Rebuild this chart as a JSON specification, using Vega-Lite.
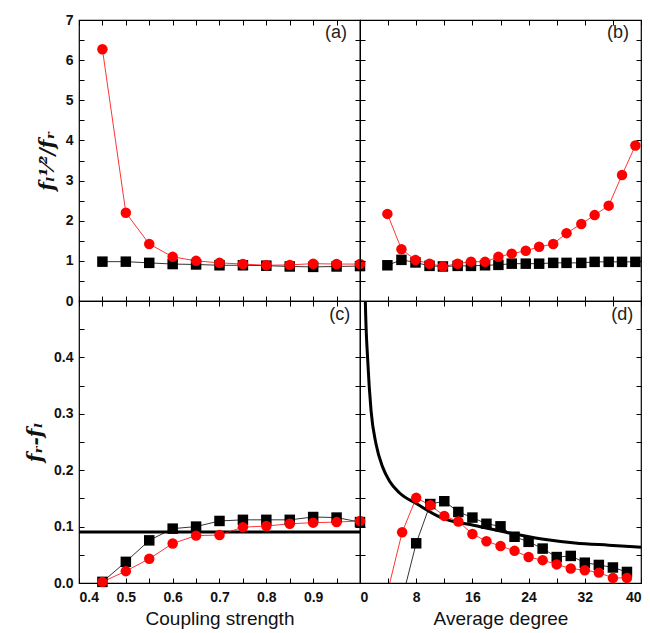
{
  "$schema": "https://vega.github.io/schema/vega-lite/v6.json",
  "padding": {"left": 24, "top": 12, "right": 5, "bottom": 5},
  "columns": 2,
  "spacing": 0,
  "bounds": "flush",
  "datasets": {
    "pa": [
      {"x": 0.45, "y": 0.98, "series": "build coupling"},
      {"x": 0.50, "y": 0.98, "series": "build coupling"},
      {"x": 0.55, "y": 0.95, "series": "build coupling"},
      {"x": 0.60, "y": 0.92, "series": "build coupling"},
      {"x": 0.65, "y": 0.91, "series": "build coupling"},
      {"x": 0.70, "y": 0.89, "series": "build coupling"},
      {"x": 0.75, "y": 0.89, "series": "build coupling"},
      {"x": 0.80, "y": 0.88, "series": "build coupling"},
      {"x": 0.85, "y": 0.86, "series": "build coupling"},
      {"x": 0.90, "y": 0.85, "series": "build coupling"},
      {"x": 0.95, "y": 0.86, "series": "build coupling"},
      {"x": 1.00, "y": 0.87, "series": "build coupling"},
      {"x": 0.45, "y": 6.27, "series": "cut coupling"},
      {"x": 0.50, "y": 2.2, "series": "cut coupling"},
      {"x": 0.55, "y": 1.42, "series": "cut coupling"},
      {"x": 0.60, "y": 1.1, "series": "cut coupling"},
      {"x": 0.65, "y": 1.0, "series": "cut coupling"},
      {"x": 0.70, "y": 0.95, "series": "cut coupling"},
      {"x": 0.75, "y": 0.92, "series": "cut coupling"},
      {"x": 0.80, "y": 0.89, "series": "cut coupling"},
      {"x": 0.85, "y": 0.9, "series": "cut coupling"},
      {"x": 0.90, "y": 0.93, "series": "cut coupling"},
      {"x": 0.95, "y": 0.92, "series": "cut coupling"},
      {"x": 1.00, "y": 0.92, "series": "cut coupling"}
    ],
    "pb": [
      {"x": 3.9, "y": 0.89, "series": "build coupling"},
      {"x": 5.9, "y": 1.025, "series": "build coupling"},
      {"x": 7.9, "y": 0.96, "series": "build coupling"},
      {"x": 9.9, "y": 0.875, "series": "build coupling"},
      {"x": 11.8, "y": 0.86, "series": "build coupling"},
      {"x": 13.9, "y": 0.875, "series": "build coupling"},
      {"x": 15.8, "y": 0.875, "series": "build coupling"},
      {"x": 17.8, "y": 0.89, "series": "build coupling"},
      {"x": 19.7, "y": 0.9, "series": "build coupling"},
      {"x": 21.6, "y": 0.93, "series": "build coupling"},
      {"x": 23.6, "y": 0.93, "series": "build coupling"},
      {"x": 25.5, "y": 0.93, "series": "build coupling"},
      {"x": 27.5, "y": 0.95, "series": "build coupling"},
      {"x": 29.4, "y": 0.95, "series": "build coupling"},
      {"x": 31.5, "y": 0.95, "series": "build coupling"},
      {"x": 33.4, "y": 0.975, "series": "build coupling"},
      {"x": 35.4, "y": 0.975, "series": "build coupling"},
      {"x": 37.3, "y": 0.975, "series": "build coupling"},
      {"x": 39.2, "y": 0.975, "series": "build coupling"},
      {"x": 3.9, "y": 2.17, "series": "cut coupling"},
      {"x": 5.9, "y": 1.29, "series": "cut coupling"},
      {"x": 7.9, "y": 1.02, "series": "cut coupling"},
      {"x": 9.9, "y": 0.93, "series": "cut coupling"},
      {"x": 11.8, "y": 0.86, "series": "cut coupling"},
      {"x": 13.9, "y": 0.93, "series": "cut coupling"},
      {"x": 15.8, "y": 0.98, "series": "cut coupling"},
      {"x": 17.8, "y": 0.975, "series": "cut coupling"},
      {"x": 19.7, "y": 1.1, "series": "cut coupling"},
      {"x": 21.6, "y": 1.18, "series": "cut coupling"},
      {"x": 23.6, "y": 1.25, "series": "cut coupling"},
      {"x": 25.5, "y": 1.35, "series": "cut coupling"},
      {"x": 27.5, "y": 1.42, "series": "cut coupling"},
      {"x": 29.4, "y": 1.69, "series": "cut coupling"},
      {"x": 31.5, "y": 1.92, "series": "cut coupling"},
      {"x": 33.4, "y": 2.14, "series": "cut coupling"},
      {"x": 35.4, "y": 2.375, "series": "cut coupling"},
      {"x": 37.3, "y": 3.14, "series": "cut coupling"},
      {"x": 39.2, "y": 3.875, "series": "cut coupling"}
    ],
    "pc": [
      {"x": 0.45, "y": 0.002, "series": "build coupling"},
      {"x": 0.50, "y": 0.0375, "series": "build coupling"},
      {"x": 0.55, "y": 0.0756, "series": "build coupling"},
      {"x": 0.60, "y": 0.0964, "series": "build coupling"},
      {"x": 0.65, "y": 0.1, "series": "build coupling"},
      {"x": 0.70, "y": 0.11, "series": "build coupling"},
      {"x": 0.75, "y": 0.112, "series": "build coupling"},
      {"x": 0.80, "y": 0.112, "series": "build coupling"},
      {"x": 0.85, "y": 0.112, "series": "build coupling"},
      {"x": 0.90, "y": 0.117, "series": "build coupling"},
      {"x": 0.95, "y": 0.116, "series": "build coupling"},
      {"x": 1.00, "y": 0.108, "series": "build coupling"},
      {"x": 0.45, "y": 0.002, "series": "cut coupling"},
      {"x": 0.50, "y": 0.021, "series": "cut coupling"},
      {"x": 0.55, "y": 0.043, "series": "cut coupling"},
      {"x": 0.60, "y": 0.07, "series": "cut coupling"},
      {"x": 0.65, "y": 0.084, "series": "cut coupling"},
      {"x": 0.70, "y": 0.085, "series": "cut coupling"},
      {"x": 0.75, "y": 0.099, "series": "cut coupling"},
      {"x": 0.80, "y": 0.101, "series": "cut coupling"},
      {"x": 0.85, "y": 0.105, "series": "cut coupling"},
      {"x": 0.90, "y": 0.107, "series": "cut coupling"},
      {"x": 0.95, "y": 0.108, "series": "cut coupling"},
      {"x": 1.00, "y": 0.11, "series": "cut coupling"}
    ],
    "pcref": [{"y": 0.0905}],
    "pd": [
      {"x": 6, "y": -0.028, "series": "build coupling"},
      {"x": 8, "y": 0.0704, "series": "build coupling"},
      {"x": 10, "y": 0.14, "series": "build coupling"},
      {"x": 12, "y": 0.145, "series": "build coupling"},
      {"x": 14, "y": 0.126, "series": "build coupling"},
      {"x": 16, "y": 0.116, "series": "build coupling"},
      {"x": 18, "y": 0.105, "series": "build coupling"},
      {"x": 20, "y": 0.1005, "series": "build coupling"},
      {"x": 22, "y": 0.082, "series": "build coupling"},
      {"x": 24, "y": 0.073, "series": "build coupling"},
      {"x": 26, "y": 0.061, "series": "build coupling"},
      {"x": 28, "y": 0.046, "series": "build coupling"},
      {"x": 30, "y": 0.048, "series": "build coupling"},
      {"x": 32, "y": 0.036, "series": "build coupling"},
      {"x": 34, "y": 0.032, "series": "build coupling"},
      {"x": 36, "y": 0.0275, "series": "build coupling"},
      {"x": 38, "y": 0.0196, "series": "build coupling"},
      {"x": 4, "y": -0.012, "series": "cut coupling"},
      {"x": 6, "y": 0.09, "series": "cut coupling"},
      {"x": 8, "y": 0.151, "series": "cut coupling"},
      {"x": 10, "y": 0.138, "series": "cut coupling"},
      {"x": 12, "y": 0.119, "series": "cut coupling"},
      {"x": 14, "y": 0.109, "series": "cut coupling"},
      {"x": 16, "y": 0.087, "series": "cut coupling"},
      {"x": 18, "y": 0.074, "series": "cut coupling"},
      {"x": 20, "y": 0.0655, "series": "cut coupling"},
      {"x": 22, "y": 0.057, "series": "cut coupling"},
      {"x": 24, "y": 0.046, "series": "cut coupling"},
      {"x": 26, "y": 0.0405, "series": "cut coupling"},
      {"x": 28, "y": 0.033, "series": "cut coupling"},
      {"x": 30, "y": 0.0257, "series": "cut coupling"},
      {"x": 32, "y": 0.0227, "series": "cut coupling"},
      {"x": 34, "y": 0.0184, "series": "cut coupling"},
      {"x": 36, "y": 0.009, "series": "cut coupling"},
      {"x": 38, "y": 0.009, "series": "cut coupling"}
    ],
    "pdcurve": [
      {"x": 0.6, "y": 0.62},
      {"x": 0.76, "y": 0.5},
      {"x": 1.1, "y": 0.395},
      {"x": 1.57, "y": 0.306},
      {"x": 2.29, "y": 0.246},
      {"x": 3.24, "y": 0.205},
      {"x": 4.19, "y": 0.181},
      {"x": 5.6, "y": 0.16},
      {"x": 8, "y": 0.141},
      {"x": 11.6, "y": 0.1155},
      {"x": 16.3, "y": 0.102},
      {"x": 21.1, "y": 0.089},
      {"x": 25.9, "y": 0.078},
      {"x": 30.6, "y": 0.071},
      {"x": 35.4, "y": 0.067},
      {"x": 40, "y": 0.0635}
    ],
    "labels": [
      {"panel": "(a)"}, {"panel": "(b)"}, {"panel": "(c)"}, {"panel": "(d)"}
    ]
  },
  "concat": [
    {
      "width": 281, "height": 281,
      "layer": [
        {
          "data": {"name": "pa"},
          "mark": {"type": "line", "strokeWidth": 0.8},
          "encoding": {
            "x": {"field": "x", "type": "quantitative", "scale": {"domain": [0.4, 1.0], "nice": false}, "axis": {"orient": "bottom", "tickSize": -5, "tickColor": "black", "values": [0.4,0.45,0.5,0.55,0.6,0.65,0.7,0.75,0.8,0.85,0.9,0.95,1.0], "labels": false, "title": null}},
            "y": {"field": "y", "type": "quantitative", "scale": {"domain": [0, 7], "nice": false, "zero": false}, "axis": {"orient": "left", "tickSize": -5, "tickColor": "black", "labelPadding": 11, "values": [0,0.5,1,1.5,2,2.5,3,3.5,4,4.5,5,5.5,6,6.5,7], "labelExpr": "datum.value % 1 === 0 ? format(datum.value, 'd') : ''", "title": "fₗ¹⁄²/fᵣ", "titleFont": "DejaVu Serif", "titleFontStyle": "italic", "titleFontWeight": "bold", "titleFontSize": 20, "titlePadding": 8}},
            "color": {"field": "series", "type": "nominal", "scale": {"domain": ["build coupling", "cut coupling"], "range": ["black", "red"]}, "legend": null}
          }
        },
        {
          "data": {"name": "pa"},
          "mark": {"type": "point", "filled": true, "opacity": 1, "size": 110},
          "encoding": {
            "x": {"field": "x", "type": "quantitative", "axis": {"orient": "top", "tickSize": -5, "tickColor": "black", "values": [0.4,0.45,0.5,0.55,0.6,0.65,0.7,0.75,0.8,0.85,0.9,0.95,1.0], "labels": false, "title": null}},
            "y": {"field": "y", "type": "quantitative", "axis": {"orient": "right", "tickSize": -5, "tickColor": "black", "values": [0,0.5,1,1.5,2,2.5,3,3.5,4,4.5,5,5.5,6,6.5,7], "labels": false, "title": null}},
            "color": {"field": "series", "type": "nominal", "legend": null},
            "shape": {"field": "series", "type": "nominal", "scale": {"domain": ["build coupling", "cut coupling"], "range": ["square", "circle"]}, "legend": null}
          }
        },
        {
          "data": {"name": "labels"},
          "transform": [{"filter": "datum.panel === '(a)'"}],
          "mark": {"type": "text", "align": "right", "baseline": "middle", "font": "Liberation Sans", "fontSize": 18, "fontWeight": "normal", "color": "#222"},
          "encoding": {"x": {"datum": 0.972, "axis": null}, "y": {"datum": 6.67, "axis": null}, "text": {"field": "panel"}}
        }
      ],
      "resolve": {"axis": {"x": "independent", "y": "independent"}}
    },
    {
      "width": 281, "height": 281,
      "layer": [
        {
          "data": {"name": "pb"},
          "mark": {"type": "line", "strokeWidth": 0.8},
          "encoding": {
            "x": {"field": "x", "type": "quantitative", "scale": {"domain": [0, 40], "nice": false}, "axis": {"orient": "bottom", "tickSize": -5, "tickColor": "black", "values": [0,4,8,12,16,20,24,28,32,36,40], "labels": false, "title": null}},
            "y": {"field": "y", "type": "quantitative", "scale": {"domain": [0, 7], "nice": false, "zero": false}, "axis": {"orient": "left", "tickSize": -5, "tickColor": "black", "values": [0,0.5,1,1.5,2,2.5,3,3.5,4,4.5,5,5.5,6,6.5,7], "labels": false, "title": null}},
            "color": {"field": "series", "type": "nominal", "scale": {"domain": ["build coupling", "cut coupling"], "range": ["black", "red"]}, "legend": null}
          }
        },
        {
          "data": {"name": "pb"},
          "mark": {"type": "point", "filled": true, "opacity": 1, "size": 110},
          "encoding": {
            "x": {"field": "x", "type": "quantitative", "axis": {"orient": "top", "tickSize": -5, "tickColor": "black", "values": [0,4,8,12,16,20,24,28,32,36,40], "labels": false, "title": null}},
            "y": {"field": "y", "type": "quantitative", "axis": {"orient": "right", "tickSize": -5, "tickColor": "black", "values": [0,0.5,1,1.5,2,2.5,3,3.5,4,4.5,5,5.5,6,6.5,7], "labels": false, "title": null}},
            "color": {"field": "series", "type": "nominal", "legend": null},
            "shape": {"field": "series", "type": "nominal", "scale": {"domain": ["build coupling", "cut coupling"], "range": ["square", "circle"]}, "legend": null}
          }
        },
        {
          "data": {"name": "labels"},
          "transform": [{"filter": "datum.panel === '(b)'"}],
          "mark": {"type": "text", "align": "right", "baseline": "middle", "font": "Liberation Sans", "fontSize": 18, "fontWeight": "normal", "color": "#222"},
          "encoding": {"x": {"datum": 38.3, "axis": null}, "y": {"datum": 6.67, "axis": null}, "text": {"field": "panel"}}
        }
      ],
      "resolve": {"axis": {"x": "independent", "y": "independent"}}
    },
    {
      "width": 281, "height": 282,
      "layer": [
        {
          "data": {"name": "pcref"},
          "mark": {"type": "rule", "strokeWidth": 3, "color": "black"},
          "encoding": {
            "y": {"field": "y", "type": "quantitative", "scale": {"domain": [0, 0.5], "nice": false}, "axis": null}
          }
        },
        {
          "data": {"name": "pc"},
          "mark": {"type": "line", "strokeWidth": 0.8},
          "encoding": {
            "x": {"field": "x", "type": "quantitative", "scale": {"domain": [0.4, 1.0], "nice": false}, "axis": {"orient": "bottom", "tickSize": -5, "tickColor": "black", "labelPadding": 12, "values": [0.4,0.45,0.5,0.55,0.6,0.65,0.7,0.75,0.8,0.85,0.9,0.95,1.0], "labelExpr": "(abs(datum.value*10 - round(datum.value*10)) < 0.001 && datum.value < 0.95) ? format(datum.value, '.1f') : ''", "title": "Coupling strength", "titlePadding": 5}},
            "y": {"field": "y", "type": "quantitative", "axis": {"orient": "left", "tickSize": -5, "tickColor": "black", "labelPadding": 11, "values": [0,0.05,0.1,0.15,0.2,0.25,0.3,0.35,0.4,0.45,0.5], "labelExpr": "(abs(datum.value*10 - round(datum.value*10)) < 0.001 && datum.value < 0.45) ? format(datum.value, '.1f') : ''", "title": "fᵣ-fₗ", "titleFont": "DejaVu Serif", "titleFontStyle": "italic", "titleFontWeight": "bold", "titleFontSize": 20, "titlePadding": 8}},
            "color": {"field": "series", "type": "nominal", "scale": {"domain": ["build coupling", "cut coupling"], "range": ["black", "red"]}}
          }
        },
        {
          "data": {"name": "pc"},
          "mark": {"type": "point", "filled": true, "opacity": 1, "size": 110},
          "encoding": {
            "x": {"field": "x", "type": "quantitative", "axis": {"orient": "top", "tickSize": -5, "tickColor": "black", "values": [0.4,0.45,0.5,0.55,0.6,0.65,0.7,0.75,0.8,0.85,0.9,0.95,1.0], "labels": false, "title": null}},
            "y": {"field": "y", "type": "quantitative", "axis": {"orient": "right", "tickSize": -5, "tickColor": "black", "values": [0,0.05,0.1,0.15,0.2,0.25,0.3,0.35,0.4,0.45,0.5], "labels": false, "title": null}},
            "color": {"field": "series", "type": "nominal", "legend": {"orient": "none", "legendX": 43, "legendY": 117, "padding": 0, "title": null, "labelFontSize": 20, "symbolSize": 100, "symbolStrokeWidth": 1, "symbolOffset": 24, "labelOffset": 32, "rowPadding": 9,
              "encode": {"symbols": {"update": {
                "shape": {"signal": "datum.value === 'build coupling' ? 'M-5.8,0H5.8M-1,-1H1V1H-1Z' : 'M-5.8,0H5.8M1.2,0A1.2,1.2,0,1,1,-1.2,0A1.2,1.2,0,1,1,1.2,0Z'"},
                "fill": {"signal": "datum.value === 'build coupling' ? 'black' : 'red'"},
                "stroke": {"signal": "datum.value === 'build coupling' ? 'black' : 'red'"},
                "strokeWidth": {"value": 1}
              }}}}},
            "shape": {"field": "series", "type": "nominal", "scale": {"domain": ["build coupling", "cut coupling"], "range": ["square", "circle"]}, "legend": {"orient": "none", "legendX": 43, "legendY": 117, "padding": 0, "title": null, "labelFontSize": 20, "symbolSize": 100, "symbolStrokeWidth": 1, "symbolOffset": 24, "labelOffset": 32, "rowPadding": 9}}
          }
        },
        {
          "data": {"name": "labels"},
          "transform": [{"filter": "datum.panel === '(c)'"}],
          "mark": {"type": "text", "align": "right", "baseline": "middle", "font": "Liberation Sans", "fontSize": 18, "fontWeight": "normal", "color": "#222"},
          "encoding": {"x": {"datum": 0.979, "axis": null}, "y": {"datum": 0.475, "axis": null}, "text": {"field": "panel"}}
        }
      ],
      "resolve": {"axis": {"x": "independent", "y": "independent"}}
    },
    {
      "width": 281, "height": 282,
      "layer": [
        {
          "data": {"name": "pdcurve"},
          "mark": {"type": "line", "strokeWidth": 3, "color": "black", "interpolate": "monotone", "clip": true},
          "encoding": {
            "x": {"field": "x", "type": "quantitative", "scale": {"domain": [0, 40], "nice": false}, "axis": null},
            "y": {"field": "y", "type": "quantitative", "scale": {"domain": [0, 0.5], "nice": false}, "axis": null}
          }
        },
        {
          "data": {"name": "pd"},
          "mark": {"type": "line", "strokeWidth": 0.8, "clip": true},
          "encoding": {
            "x": {"field": "x", "type": "quantitative", "axis": {"orient": "bottom", "tickSize": -5, "tickColor": "black", "labelPadding": 12, "values": [0,4,8,12,16,20,24,28,32,36,40], "labelExpr": "datum.value % 8 === 0 ? format(datum.value, 'd') : ''", "title": "Average degree", "titlePadding": 5}},
            "y": {"field": "y", "type": "quantitative", "axis": {"orient": "left", "tickSize": -5, "tickColor": "black", "values": [0,0.05,0.1,0.15,0.2,0.25,0.3,0.35,0.4,0.45,0.5], "labels": false, "title": null}},
            "color": {"field": "series", "type": "nominal", "scale": {"domain": ["build coupling", "cut coupling"], "range": ["black", "red"]}, "legend": null}
          }
        },
        {
          "data": {"name": "pd"},
          "mark": {"type": "point", "filled": true, "opacity": 1, "size": 110, "clip": true},
          "encoding": {
            "x": {"field": "x", "type": "quantitative", "axis": {"orient": "top", "tickSize": -5, "tickColor": "black", "values": [0,4,8,12,16,20,24,28,32,36,40], "labels": false, "title": null}},
            "y": {"field": "y", "type": "quantitative", "axis": {"orient": "right", "tickSize": -5, "tickColor": "black", "values": [0,0.05,0.1,0.15,0.2,0.25,0.3,0.35,0.4,0.45,0.5], "labels": false, "title": null}},
            "color": {"field": "series", "type": "nominal", "legend": null},
            "shape": {"field": "series", "type": "nominal", "scale": {"domain": ["build coupling", "cut coupling"], "range": ["square", "circle"]}, "legend": null}
          }
        },
        {
          "data": {"name": "labels"},
          "transform": [{"filter": "datum.panel === '(d)'"}],
          "mark": {"type": "text", "align": "right", "baseline": "middle", "font": "Liberation Sans", "fontSize": 18, "fontWeight": "normal", "color": "#222"},
          "encoding": {"x": {"datum": 38.9, "axis": null}, "y": {"datum": 0.475, "axis": null}, "text": {"field": "panel"}}
        }
      ],
      "resolve": {"axis": {"x": "independent", "y": "independent"}}
    }
  ],
  "config": {
    "view": {"stroke": "black", "strokeWidth": 1.2},
    "axis": {"domain": false, "grid": false, "labelFont": "Liberation Sans", "labelFontWeight": "bold", "labelFontSize": 14, "labelColor": "#111", "titleFont": "Liberation Sans", "titleFontWeight": "normal", "titleFontSize": 19, "titleColor": "#111"},
    "legend": {"labelFont": "Liberation Sans", "labelColor": "#111"}
  }
}
